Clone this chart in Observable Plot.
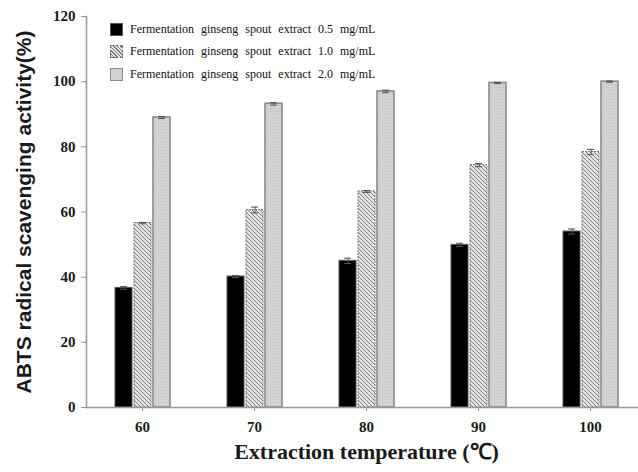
<!DOCTYPE html>
<html><head><meta charset="utf-8">
<script src="https://cdn.jsdelivr.net/npm/d3@7"></script>
<script src="https://cdn.jsdelivr.net/npm/@observablehq/plot@0.6"></script>
<style>
body{margin:0;background:#fff}
#wrap{position:relative;width:638px;height:472px;overflow:hidden}
#wrap svg{position:absolute;left:0;top:0;overflow:visible}
.legend{position:absolute;left:110px;top:18px;font-family:"Liberation Serif",serif;font-size:12px;color:#111;word-spacing:4px}
.row{display:flex;align-items:center;height:22.5px;white-space:nowrap}
.sw{width:13px;height:13px;box-sizing:border-box;margin-right:7px;flex:none}
g[aria-label="y-axis tick label"], g[aria-label="fx-axis tick label"]{font:bold 15px "Liberation Serif",serif;fill:#1a1a1a}
g[aria-label="y-axis label"]{font:bold 21px "Liberation Sans",Arial,sans-serif;fill:#1a1a1a}
g[aria-label="fx-axis label"]{font:bold 22px "Liberation Serif",serif;fill:#1a1a1a}
</style></head><body><div id="wrap"></div>
<script>
const temperatures = [60, 70, 80, 90, 100];
const seriesNames = [
  "Fermentation ginseng spout extract 0.5 mg/mL",
  "Fermentation ginseng spout extract 1.0 mg/mL",
  "Fermentation ginseng spout extract 2.0 mg/mL"
];
const values05 = [36.7, 40.2, 45.0, 49.9, 54.0];
const values10 = [56.6, 60.6, 66.3, 74.4, 78.4];
const values20 = [89.0, 93.2, 97.0, 99.6, 100.0];
const err05 = [0.4, 0.3, 0.8, 0.5, 0.8];
const err10 = [0.2, 0.9, 0.3, 0.5, 0.8];
const err20 = [0.3, 0.4, 0.4, 0.2, 0.2];
const yTicks = [0, 20, 40, 60, 80, 100, 120];
const yLabel = "ABTS radical scavenging activity(%)";
const xLabel = "Extraction temperature (℃)";

const allValues = [values05, values10, values20];
const allErrs = [err05, err10, err20];
const rows = [];
temperatures.forEach((t, i) => seriesNames.forEach((s, j) => rows.push({temp: t, series: s, value: allValues[j][i], err: allErrs[j][i], k: j})));

const styles = [
  {fill: "#000000", stroke: "#555", strokeWidth: 1},
  {fill: "url(#hatch)", stroke: "#777", strokeWidth: 1, strokeDasharray: "2,1"},
  {fill: "url(#dots)", stroke: "#8a8a8a", strokeWidth: 1.6}
];

const bars = styles.map((st, j) => Plot.barY(rows.filter(d => d.k === j), {fx: "temp", x: "series", y: "value", ...st}));

const plot = Plot.plot({
  width: 638, height: 472,
  marginLeft: 84, marginRight: -10, marginTop: 16, marginBottom: 65,
  style: {background: "transparent", fontFamily: "Liberation Serif"},
  fx: {domain: temperatures, paddingInner: 0, paddingOuter: 0, label: xLabel},
  x: {domain: seriesNames, paddingInner: 0.13, paddingOuter: 1.43, axis: null},
  y: {domain: [0, 120], ticks: yTicks},
  marks: [
    ...bars,
    Plot.ruleX(rows, {fx: "temp", x: "series", y1: d => d.value - d.err, y2: d => d.value + d.err, stroke: "#555"}),
    Plot.tickY(rows, {fx: "temp", x: "series", y: d => d.value + d.err, stroke: "#555", insetLeft: 5, insetRight: 5}),
    Plot.tickY(rows, {fx: "temp", x: "series", y: d => d.value - d.err, stroke: "#555", insetLeft: 5, insetRight: 5}),
    Plot.ruleY([0], {stroke: "#999", strokeWidth: 1.5}),
    Plot.frame({anchor: "left", facetAnchor: "left", stroke: "#999", strokeWidth: 1.5}),
    Plot.axisY({ticks: yTicks, tickSize: 5, tickPadding: 6, stroke: "#999", label: yLabel, labelAnchor: "center", labelArrow: "none", labelOffset: 70}),
    Plot.axisFx({anchor: "bottom", tickSize: 4, tickPadding: 10, stroke: "#999", label: xLabel, labelAnchor: "center", labelArrow: "none", labelOffset: 51})
  ]
});

const defs = d3.select(plot).insert("defs", ":first-child");
const h = defs.append("pattern").attr("id", "hatch").attr("patternUnits", "userSpaceOnUse").attr("width", 4).attr("height", 4);
h.append("rect").attr("width", 4).attr("height", 4).attr("fill", "#e6e6e6");
h.append("path").attr("d", "M0,0L4,4M-1,3L1,5M3,-1L5,1").attr("stroke", "#7a7a7a").attr("stroke-width", 1);
const p = defs.append("pattern").attr("id", "dots").attr("patternUnits", "userSpaceOnUse").attr("width", 3).attr("height", 3);
p.append("rect").attr("width", 3).attr("height", 3).attr("fill", "#d2d2d2");
p.append("rect").attr("width", 1).attr("height", 1).attr("fill", "#c2c2c2");

const wrap = document.getElementById("wrap");
wrap.appendChild(plot);

const swatchCss = [
  "background:#000;border:1px solid #555",
  "background:repeating-linear-gradient(45deg,#e6e6e6 0 1.5px,#7a7a7a 1.5px 2.5px);border:1px dashed #777",
  "background:#d2d2d2;border:1.5px solid #8a8a8a"
];
const legend = document.createElement("div");
legend.className = "legend";
seriesNames.forEach((s, j) => {
  const r = document.createElement("div"); r.className = "row";
  const sw = document.createElement("div"); sw.className = "sw"; sw.style.cssText += swatchCss[j];
  const tx = document.createElement("span"); tx.textContent = s;
  r.appendChild(sw); r.appendChild(tx); legend.appendChild(r);
});
wrap.appendChild(legend);
</script></body></html>
